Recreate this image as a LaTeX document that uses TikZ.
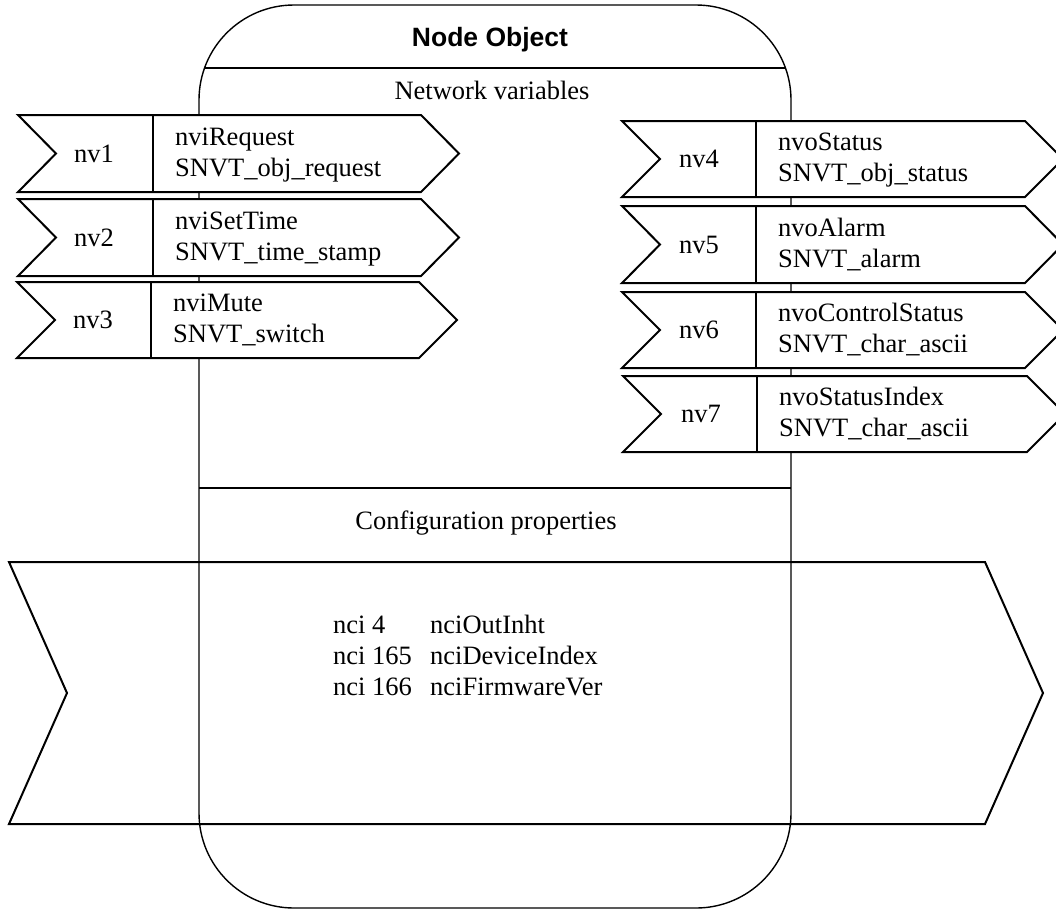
\documentclass[tikz,border=0pt]{standalone}
\usepackage{fontspec}
\setmainfont{Liberation Serif}
\newfontfamily\headfont{Liberation Sans}

\tikzset{
  outline/.style={draw, line width=1.4pt},
  chevron/.style={draw, line width=2pt, fill=white, line join=miter},
  bigchevron/.style={draw, line width=2pt, line join=miter},
  divider/.style={draw, line width=2pt},
  lbl/.style={inner sep=0pt, font=\fontsize{26.5}{31}\selectfont},
  head/.style={inner sep=0pt, font=\headfont\bfseries\fontsize{26.5}{31}\selectfont},
}

% #1 name, #2 left x, #3 top y, #4 bottom y, #5 divider x, #6 body end x,
% #7 label x, #8 short label, #9 name and type (two lines)
\newcommand\nvarrow[9]{%
  \draw[chevron] (#2,#3) -- (#6,#3) -- ({#6+38},{(#3+#4)/2}) -- (#6,#4)
    -- (#2,#4) -- ({#2+38},{(#3+#4)/2}) -- cycle;
  \draw[divider] (#5,#3) -- (#5,#4);
  \node[lbl] (#1-id) at (#7,{(#3+#4)/2}) {#8};
  \node[lbl, anchor=west] (#1-type) at ({#5+22},{(#3+#4)/2+1})
    {\begin{tabular}{@{}l@{}}#9\end{tabular}};
}

\begin{document}
\begin{tikzpicture}[x=1pt, y=-1pt]
  \useasboundingbox (0,0) rectangle (1056,911);
  \fill[white] (0,0) rectangle (1056,911);

  % node object body
  \draw[outline, rounded corners=95pt] (199,5) rectangle (791,908);
  \begin{scope}
    \clip[rounded corners=95pt] (199,5) rectangle (791,908);
    \draw[divider] (150,68) -- (850,68);
  \end{scope}
  \draw[outline] (199,488) -- (791,488);

  \node[head] (title) at (490,40) {Node Object};
  \node[lbl] (nvhead) at (492,90) {Network variables};
  \node[lbl] (cphead) at (486,523) {Configuration properties};

  % input network variables
  \nvarrow{nv1}{18}{115}{192}{153}{421}{94}{nv1}{nviRequest\\SNVT\_obj\_request}
  \nvarrow{nv2}{18}{199}{276}{153}{421}{94}{nv2}{nviSetTime\\SNVT\_time\_stamp}
  \nvarrow{nv3}{17}{282}{358}{151}{419}{93}{nv3}{nviMute\\SNVT\_switch}

  % output network variables
  \nvarrow{nv4}{622}{121}{197}{756}{1025}{699}{nv4}{nvoStatus\\SNVT\_obj\_status}
  \nvarrow{nv5}{622}{206}{283}{756}{1025}{699}{nv5}{nvoAlarm\\SNVT\_alarm}
  \nvarrow{nv6}{622}{292}{368}{756}{1025}{699}{nv6}{nvoControlStatus\\SNVT\_char\_ascii}
  \nvarrow{nv7}{623}{376}{452}{757}{1027}{701}{nv7}{nvoStatusIndex\\SNVT\_char\_ascii}

  % configuration properties band
  \draw[bigchevron] (9,562) -- (985,562) -- (1043,693) -- (985,824)
    -- (9,824) -- (67,693) -- cycle;
  \node[lbl, anchor=west] (nci) at (333,658)
    {\begin{tabular}{@{}p{97pt}@{}l@{}}
      nci 4   & nciOutInht\\
      nci 165 & nciDeviceIndex\\
      nci 166 & nciFirmwareVer
    \end{tabular}};
\end{tikzpicture}
\end{document}
